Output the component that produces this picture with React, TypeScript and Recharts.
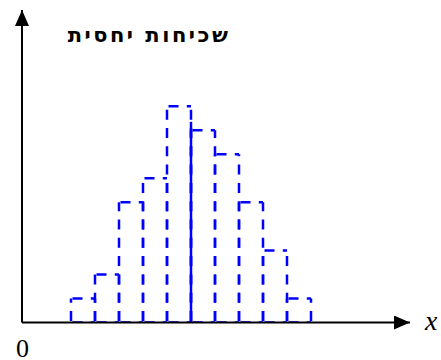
import { Bar, BarChart, ReferenceLine, XAxis, YAxis } from "recharts";

// lower bound of each class interval (unit width) and its count
const binStarts = [0, 1, 2, 3, 4, 5, 6, 7, 8, 9];
const counts = [1, 2, 5, 6, 9, 8, 7, 5, 3, 1];

// solid divider drawn at the middle of the distribution
const splitAt = 5;
const splitHeight = 8.35;

const data = binStarts.map((start, i) => ({ mid: start + 0.5, count: counts[i] }));

const W = 441;
const H = 360;
const BLUE = "#0000ff";

// every edge is its own line, vertical ones drawn upward from the baseline,
// so the edge two neighbouring bars share is dashed in one phase
function DashedOutline(props: any) {
  const { x, y, width, height } = props;
  if (!height) return null;
  const base = y + height;
  return (
    <g fill="none" stroke={BLUE} strokeDasharray="10 8.3" strokeDashoffset={16.8} strokeWidth={2.5}>
      <line x1={x} x2={x} y1={base} y2={y} />
      <line x1={x} x2={x + width} y1={y} y2={y} />
      <line x1={x + width} x2={x + width} y1={base} y2={y} />
      <line x1={x} x2={x + width} y1={base} y2={base} />
    </g>
  );
}

export default function App() {
  return (
    <div style={{ position: "absolute", left: 0, top: 0, width: W, height: H, background: "#fff" }}>
      <BarChart
        barCategoryGap={0}
        data={data}
        height={H}
        margin={{ top: 10, right: 31, bottom: 36.5, left: 21 }}
        width={W}
      >
        <defs>
          <marker id="arrowX" markerHeight={14} markerUnits="userSpaceOnUse" markerWidth={16} orient="auto" refX={16} refY={7} viewBox="0 0 16 14">
            <path d="M0,0 L16,7 L0,14 Z" fill="#000" />
          </marker>
          <marker id="arrowY" markerHeight={14} markerUnits="userSpaceOnUse" markerWidth={16} orient="auto-start-reverse" refX={16} refY={7} viewBox="0 0 16 14">
            <path d="M0,0 L16,7 L0,14 Z" fill="#000" />
          </marker>
        </defs>
        <XAxis
          allowDataOverflow
          axisLine={{ stroke: "#000", strokeWidth: 2, markerEnd: "url(#arrowX)" }}
          dataKey="mid"
          domain={[-2.0417, 14.125]}
          height={1}
          tick={false}
          tickLine={false}
          type="number"
        />
        <YAxis
          allowDataOverflow
          axisLine={{ stroke: "#000", strokeWidth: 2, markerStart: "url(#arrowY)" }}
          domain={[0, 13]}
          tick={false}
          tickLine={false}
          width={1}
        />
        <Bar dataKey="count" isAnimationActive={false} shape={DashedOutline} />
        <ReferenceLine
          segment={[{ x: splitAt, y: 0 }, { x: splitAt, y: splitHeight }]}
          stroke={BLUE}
          strokeWidth={2.5}
        />
      </BarChart>
      <div
        dir="rtl"
        style={{ position: "absolute", left: 49, top: 23, width: 200, textAlign: "center", font: "bold 21px 'DejaVu Sans', sans-serif", letterSpacing: 2.5, whiteSpace: "nowrap" }}
      >
        שכיחות יחסית
      </div>
      <div style={{ position: "absolute", left: 425, top: 305, font: "italic 28px 'Liberation Serif', serif" }}>x</div>
      <div style={{ position: "absolute", left: 16, top: 334, lineHeight: "20px", font: "26px 'Liberation Serif', serif" }}>0</div>
    </div>
  );
}
